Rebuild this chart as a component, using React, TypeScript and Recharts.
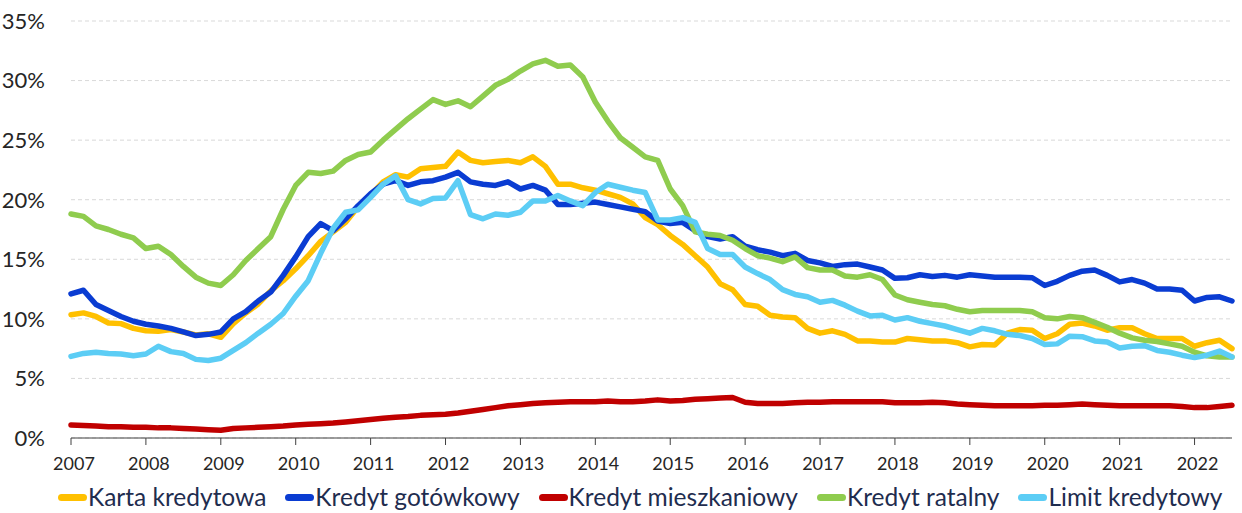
import React from "react";
import { LineChart, Line, XAxis, YAxis, CartesianGrid } from "recharts";

// one value every 2 months, Jan 2007 .. Jul 2022
const STEP = 2;
const yearLabels = ["2007", "2008", "2009", "2010", "2011", "2012", "2013", "2014", "2015", "2016", "2017", "2018", "2019", "2020", "2021", "2022"];
const yTicks = [0, 5, 10, 15, 20, 25, 30, 35];

const karta = [
  10.35, 10.5, 10.2, 9.65, 9.6, 9.2, 9.0, 8.95, 9.1, 8.9, 8.65, 8.75, 8.45, 9.6, 10.5, 11.25,
  12.35, 13.2, 14.2, 15.3, 16.5, 17.3, 18.1, 19.4, 20.4, 21.5, 22.1, 21.9, 22.6, 22.7, 22.8, 24.0,
  23.3, 23.1, 23.2, 23.3, 23.1, 23.6, 22.8, 21.3, 21.3, 21.0, 20.8, 20.5, 20.2, 19.65, 18.5, 17.9,
  17.0, 16.25, 15.3, 14.35, 12.95, 12.45, 11.2, 11.05, 10.3, 10.15, 10.1, 9.2, 8.8, 9.0, 8.7, 8.15,
  8.15, 8.05, 8.05, 8.35, 8.25, 8.15, 8.15, 8.0, 7.65, 7.85, 7.8, 8.8, 9.1, 9.05, 8.35, 8.75,
  9.55, 9.65, 9.4, 9.05, 9.25, 9.25, 8.75, 8.35, 8.35, 8.35, 7.7, 8.0, 8.2, 7.5,
];
const gotowkowy = [
  12.1, 12.4, 11.2, 10.7, 10.2, 9.8, 9.55, 9.4, 9.2, 8.9, 8.6, 8.7, 8.9, 10.0, 10.6, 11.5,
  12.25, 13.65, 15.2, 16.9, 18.0, 17.4, 18.4, 19.5, 20.5, 21.3, 21.6, 21.2, 21.5, 21.6, 21.9, 22.3,
  21.5, 21.3, 21.2, 21.5, 20.9, 21.2, 20.8, 19.6, 19.6, 19.7, 19.8, 19.6, 19.4, 19.2, 19.0, 18.2,
  18.0, 18.1, 17.4, 16.9, 16.7, 16.9, 16.1, 15.8, 15.6, 15.3, 15.5, 14.9, 14.7, 14.4, 14.55, 14.6,
  14.35, 14.1, 13.4, 13.45, 13.7, 13.55, 13.65, 13.5, 13.7, 13.6, 13.5, 13.5, 13.5, 13.45, 12.8, 13.15,
  13.65, 14.0, 14.1, 13.65, 13.1, 13.3, 13.0, 12.5, 12.5, 12.4, 11.5, 11.8, 11.85, 11.5,
];
const mieszkaniowy = [
  1.1, 1.05, 1.0, 0.95, 0.95, 0.9, 0.9, 0.85, 0.85, 0.8, 0.75, 0.7, 0.65, 0.8, 0.85, 0.9,
  0.95, 1.0, 1.1, 1.15, 1.2, 1.25, 1.35, 1.45, 1.55, 1.65, 1.75, 1.8, 1.9, 1.95, 2.0, 2.1,
  2.25, 2.4, 2.55, 2.7, 2.8, 2.9, 2.95, 3.0, 3.05, 3.05, 3.05, 3.1, 3.05, 3.05, 3.1, 3.2,
  3.1, 3.15, 3.25, 3.3, 3.35, 3.4, 3.0, 2.9, 2.9, 2.9, 2.95, 3.0, 3.0, 3.05, 3.05, 3.05,
  3.05, 3.05, 2.95, 2.95, 2.95, 3.0, 2.95, 2.85, 2.8, 2.75, 2.7, 2.7, 2.7, 2.7, 2.75, 2.75,
  2.8, 2.85, 2.8, 2.75, 2.7, 2.7, 2.7, 2.7, 2.7, 2.65, 2.55, 2.55, 2.65, 2.75,
];
const ratalny = [
  18.8, 18.6, 17.8, 17.5, 17.1, 16.8, 15.9, 16.1, 15.4, 14.4, 13.5, 13.0, 12.8, 13.7, 14.9, 15.9,
  16.9, 19.2, 21.2, 22.3, 22.2, 22.4, 23.3, 23.8, 24.0, 25.0, 25.9, 26.8, 27.6, 28.4, 28.0, 28.3,
  27.8, 28.7, 29.6, 30.1, 30.8, 31.4, 31.7, 31.2, 31.3, 30.3, 28.2, 26.6, 25.2, 24.4, 23.6, 23.3,
  20.9, 19.5, 17.3, 17.1, 17.0, 16.6, 15.9, 15.3, 15.1, 14.8, 15.2, 14.3, 14.1, 14.1, 13.6, 13.5,
  13.7, 13.3, 12.0, 11.6, 11.4, 11.2, 11.1, 10.8, 10.6, 10.7, 10.7, 10.7, 10.7, 10.6, 10.1, 10.0,
  10.2, 10.1, 9.7, 9.3, 8.8, 8.4, 8.2, 8.1, 7.9, 7.7, 7.2, 6.9, 6.8, 6.8,
];
const limit = [
  6.85, 7.1, 7.2, 7.1, 7.05, 6.9, 7.05, 7.7, 7.25, 7.1, 6.6, 6.5, 6.7, 7.35, 8.0, 8.8,
  9.55, 10.45, 11.9, 13.2, 15.5, 17.6, 18.95, 19.15, 20.2, 21.3, 22.0, 20.0, 19.65, 20.1, 20.15, 21.6,
  18.75, 18.4, 18.8, 18.7, 18.95, 19.9, 19.9, 20.35, 19.9, 19.5, 20.6, 21.3, 21.05, 20.8, 20.6, 18.3,
  18.3, 18.5, 18.1, 15.9, 15.4, 15.4, 14.35, 13.8, 13.3, 12.45, 12.05, 11.85, 11.4, 11.55, 11.15, 10.65,
  10.25, 10.3, 9.9, 10.1, 9.8, 9.6, 9.4, 9.1, 8.8, 9.2, 9.0, 8.7, 8.6, 8.35, 7.85, 7.9,
  8.55, 8.5, 8.15, 8.05, 7.55, 7.7, 7.75, 7.35, 7.2, 6.95, 6.75, 6.95, 7.3, 6.8,
];

const series = [
  { key: "karta", name: "Karta kredytowa", color: "#FFC000", values: karta },
  { key: "gotowkowy", name: "Kredyt gotówkowy", color: "#0A3CD2", values: gotowkowy },
  { key: "mieszkaniowy", name: "Kredyt mieszkaniowy", color: "#C00000", values: mieszkaniowy },
  { key: "ratalny", name: "Kredyt ratalny", color: "#8FCC4E", values: ratalny },
  { key: "limit", name: "Limit kredytowy", color: "#5CCDF5", values: limit },
];

const data = karta.map((_, i) => {
  const row: any = { m: i * STEP };
  series.forEach((s) => (row[s.key] = s.values[i]));
  return row;
});

const xTicks = yearLabels.map((_, i) => i * 12);
const FONT = "Lato, 'Open Sans', sans-serif";

export default function App() {
  return (
    <div style={{ position: "absolute", left: 0, top: 0, width: 1242, height: 513, background: "#fff", fontFamily: FONT, overflow: "hidden" }}>
      <LineChart width={1242} height={513} data={data} margin={{ top: 21, right: 10, left: 0, bottom: 45 }}>
        <CartesianGrid horizontal vertical={false} stroke="#d9d9d9" strokeDasharray="4 3" />
        <XAxis
          dataKey="m"
          type="number"
          domain={[0, 186]}
          ticks={xTicks}
          tickFormatter={(v) => yearLabels[v / 12]}
          height={30}
          interval={0}
          stroke="#404040"
          tickSize={7}
          tickMargin={12}
          tick={{ fill: "#262626", fontSize: 18, fontFamily: FONT, dx: 3 }}
        />
        <YAxis
          domain={[0, 35]}
          ticks={yTicks}
          tickFormatter={(v) => `${v}%`}
          width={71}
          axisLine={false}
          tickLine={false}
          tickMargin={20}
          interval={0}
          tick={{ fill: "#262626", fontSize: 22, fontFamily: FONT }}
        />
        {series.map((s) => (
          <Line
            key={s.key}
            type="linear"
            dataKey={s.key}
            name={s.name}
            stroke={s.color}
            strokeWidth={5.5}
            strokeLinejoin="round"
            strokeLinecap="round"
            dot={false}
            isAnimationActive={false}
          />
        ))}
      </LineChart>
      <div style={{ position: "absolute", left: 58, top: 482, display: "flex", gap: 19, fontSize: 24.5, lineHeight: "30px", color: "#1f2d4f", whiteSpace: "nowrap" }}>
        {series.map((s) => (
          <span key={s.key} style={{ display: "flex", alignItems: "center" }}>
            <span style={{ display: "inline-block", width: 29, height: 7, borderRadius: 4, background: s.color, marginRight: 1 }} />
            {s.name}
          </span>
        ))}
      </div>
    </div>
  );
}
